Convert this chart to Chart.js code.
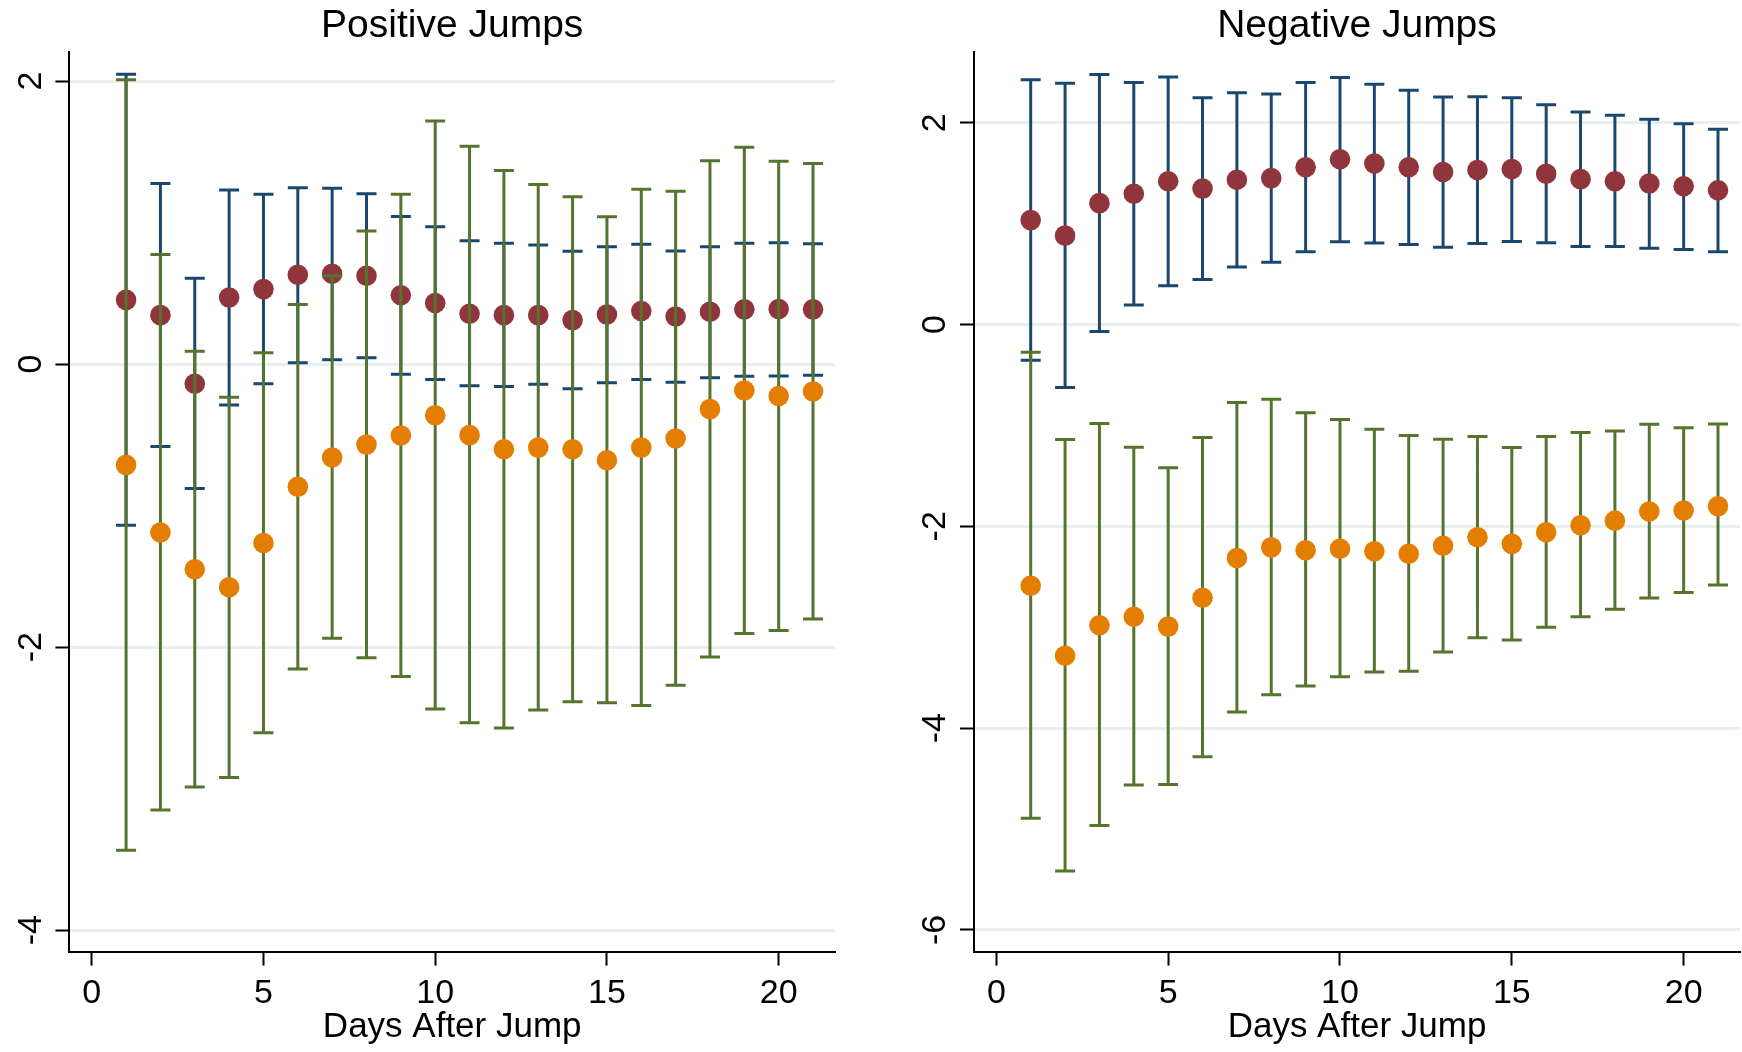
<!DOCTYPE html>
<html><head><meta charset="utf-8">
<script src="https://cdn.jsdelivr.net/npm/chart.js@4.4.1/dist/chart.umd.min.js"></script>
<style>
html,body{margin:0;padding:0;background:#fff;overflow:hidden}
#wrap{position:relative;width:1742px;height:1052px;background:#fff}
canvas{position:absolute;top:0}
#c1{left:0}
#c2{left:871px}
</style></head><body>
<div id="wrap"><canvas id="c1" width="871" height="1052"></canvas><canvas id="c2" width="871" height="1052"></canvas></div>
<script>
const days = [1,2,3,4,5,6,7,8,9,10,11,12,13,14,15,16,17,18,19,20,21];
const xTicks = [0,5,10,15,20];
const yTicksPos = [-4,-2,0,2];
const yTicksNeg = [-6,-4,-2,0,2];
const titles = ['Positive Jumps','Negative Jumps'];
const xTitle = 'Days After Jump';

// Positive jumps
const posRed   = [0.454,0.346,-0.139,0.471,0.530,0.631,0.638,0.624,0.487,0.432,0.356,0.346,0.346,0.311,0.351,0.375,0.337,0.370,0.387,0.389,0.387];
const posRedLo = [-1.139,-0.583,-0.879,-0.289,-0.139,0.010,0.031,0.045,-0.072,-0.108,-0.153,-0.158,-0.143,-0.174,-0.131,-0.108,-0.129,-0.096,-0.086,-0.084,-0.079];
const posRedHi = [2.048,1.276,0.607,1.231,1.200,1.247,1.243,1.204,1.044,0.970,0.872,0.855,0.841,0.798,0.829,0.848,0.800,0.829,0.855,0.858,0.851];
const posOrg   = [-0.712,-1.190,-1.450,-1.577,-1.264,-0.867,-0.660,-0.569,-0.504,-0.361,-0.502,-0.602,-0.590,-0.602,-0.679,-0.590,-0.526,-0.318,-0.186,-0.225,-0.194];
const posOrgLo = [-3.435,-3.152,-2.988,-2.921,-2.605,-2.155,-1.938,-2.075,-2.207,-2.438,-2.535,-2.572,-2.445,-2.386,-2.393,-2.413,-2.269,-2.070,-1.903,-1.883,-1.801];
const posOrgHi = [2.010,0.774,0.091,-0.234,0.081,0.421,0.624,0.941,1.200,1.718,1.539,1.369,1.269,1.183,1.042,1.235,1.221,1.438,1.532,1.434,1.417];

// Negative jumps
const negRed   = [1.035,0.881,1.203,1.296,1.420,1.347,1.434,1.451,1.558,1.638,1.595,1.558,1.511,1.531,1.541,1.494,1.441,1.420,1.397,1.370,1.330];
const negRedLo = [-0.355,-0.623,-0.070,0.194,0.385,0.446,0.570,0.616,0.720,0.821,0.807,0.794,0.767,0.804,0.824,0.811,0.774,0.774,0.757,0.744,0.720];
const negRedHi = [2.425,2.392,2.479,2.399,2.452,2.248,2.298,2.285,2.399,2.449,2.382,2.322,2.255,2.258,2.248,2.178,2.107,2.074,2.034,1.990,1.936];
const negOrg   = [-2.589,-3.283,-2.980,-2.896,-2.994,-2.708,-2.314,-2.209,-2.237,-2.223,-2.248,-2.272,-2.192,-2.108,-2.174,-2.059,-1.990,-1.944,-1.854,-1.843,-1.801];
const negOrgLo = [-4.894,-5.417,-4.964,-4.563,-4.559,-4.284,-3.841,-3.670,-3.583,-3.492,-3.443,-3.437,-3.245,-3.105,-3.126,-3.001,-2.896,-2.823,-2.711,-2.655,-2.582];
const negOrgHi = [-0.275,-1.139,-0.982,-1.216,-1.420,-1.119,-0.774,-0.740,-0.874,-0.941,-1.039,-1.099,-1.136,-1.109,-1.219,-1.109,-1.069,-1.055,-0.988,-1.022,-0.985];

const NAVY='#1A476F', MAROON='#90353B', GREEN='#55752F', ORANGE='#E37E00', GRID='#E8EFEF';
const FONT = "'Liberation Sans', Arial, Helvetica, sans-serif";
Chart.defaults.font.family = FONT;

function segs(lo, hi){ const o=[]; days.forEach((d,i)=>{o.push({x:d,y:lo[i]},{x:d,y:hi[i]},{x:d,y:null});}); return o; }
function caps(lo, hi){ const o=[]; days.forEach((d,i)=>{o.push({x:d,y:lo[i]},{x:d,y:hi[i]});}); return o; }
function pts(v){ return days.map((d,i)=>({x:d,y:v[i]})); }

function barSet(lo,hi,color,order){
  return [
    {type:'line', data:segs(lo,hi), borderColor:color, borderWidth:3, pointRadius:0, spanGaps:false, tension:0, borderCapStyle:'butt', order:order},
    {type:'scatter', data:caps(lo,hi), pointStyle:'line', pointRadius:10, pointBorderWidth:3, borderColor:color, pointBorderColor:color, backgroundColor:color, order:order}
  ];
}

function makeChart(id, title, rM, rLo, rHi, oM, oLo, oHi, yMin, yMax, yTicks, yW, padR){
  const datasets = [
    ...barSet(rLo, rHi, NAVY, 4),
    {type:'scatter', data:pts(rM), pointRadius:10.3, pointBorderWidth:0, backgroundColor:MAROON, pointBackgroundColor:MAROON, order:3},
    ...barSet(oLo, oHi, GREEN, 2),
    {type:'scatter', data:pts(oM), pointRadius:10.3, pointBorderWidth:0, backgroundColor:ORANGE, pointBackgroundColor:ORANGE, order:1}
  ];
  new Chart(document.getElementById(id), {
    type:'scatter',
    data:{datasets},
    options:{
      responsive:false, animation:false, devicePixelRatio:1,
      layout:{autoPadding:false, padding:{left:0,right:padR,top:0,bottom:0}},
      plugins:{legend:{display:false}, tooltip:{enabled:false}, title:{display:false}},
      scales:{
        x:{type:'linear', position:'bottom', min:-0.65, max:21.64,
           afterBuildTicks:s=>{s.ticks=xTicks.map(v=>({value:v}));},
           afterFit:s=>{s.height=100.4; s.paddingLeft=0; s.paddingRight=0;},
           grid:{display:true, drawOnChartArea:false, drawTicks:true, tickLength:14, tickColor:'#000', tickWidth:2},
           border:{display:true, color:'#000', width:2},
           ticks:{color:'#000', font:{size:34}, padding:7.5, minRotation:0, maxRotation:0, autoSkip:false},
           title:{display:true, text:xTitle, color:'#000', font:{size:35}, padding:{top:0,bottom:4}}},
        x2:{type:'linear', position:'top', min:-0.65, max:21.64,
           afterFit:s=>{s.height=52.4; s.paddingLeft=0; s.paddingRight=0;},
           grid:{display:false}, border:{display:false}, ticks:{display:false},
           title:{display:true, text:title, color:'#000', font:{size:39}, padding:{top:3,bottom:0}}},
        y:{type:'linear', position:'left', min:yMin, max:yMax,
           afterBuildTicks:s=>{s.ticks=yTicks.map(v=>({value:v}));},
           afterFit:s=>{s.width=yW; s.paddingTop=0; s.paddingBottom=0;},
           grid:{display:true, drawOnChartArea:true, color:GRID, lineWidth:3, drawTicks:true, tickLength:14, tickColor:'#000', tickWidth:2},
           border:{display:true, color:'#000', width:2},
           ticks:{color:'#000', font:{size:34}, padding:9, minRotation:90, maxRotation:90, crossAlign:'center', autoSkip:false}}
      }
    }
  });
}

makeChart('c1', titles[0], posRed, posRedLo, posRedHi, posOrg, posOrgLo, posOrgHi, -4.152, 2.203, yTicksPos, 69.4, 36);
makeChart('c2', titles[1], negRed, negRedLo, negRedHi, negOrg, negOrgLo, negOrgHi, -6.215, 2.697, yTicksNeg, 103, 2);
</script>
</body></html>
